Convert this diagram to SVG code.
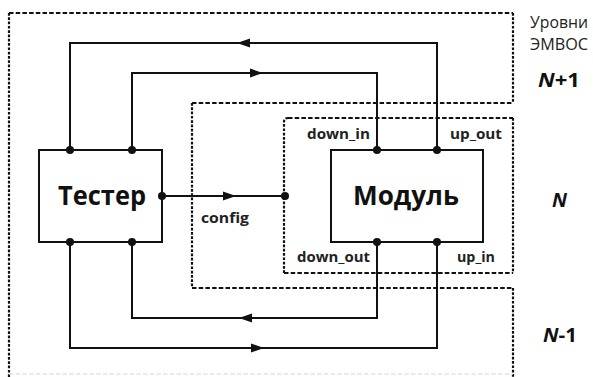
<svg xmlns="http://www.w3.org/2000/svg" width="593" height="377" viewBox="0 0 593 377">
<style>
.dh{fill:none;stroke:#111;stroke-width:2.2;stroke-dasharray:4.5 2.2}
.dv{fill:none;stroke:#111;stroke-width:2.2;stroke-dasharray:2.7 1.6}
.w{fill:none;stroke:#111;stroke-width:2}
.box{fill:#fff;stroke:#111;stroke-width:2}
.dot{fill:#111}
.ah{fill:#111}
.big{font-family:"Open Sans","Liberation Sans",Arial,sans-serif;font-weight:bold;font-size:27px;fill:#111}
.lbl{font-family:"Open Sans","Liberation Sans",Arial,sans-serif;font-weight:bold;font-size:15px;fill:#222}
.lvl{font-family:"Open Sans","Liberation Sans",Arial,sans-serif;font-size:16px;fill:#222}
.lvn{font-family:"Open Sans","Liberation Sans",Arial,sans-serif;font-weight:bold;font-size:20px;fill:#111}
</style>
<g id="levels">
  <path class="dh" d="M9,13 H513 M192,103 H513 M192,288 H513"/>
  <path class="dv" d="M9,13 V377 M513,13 V103 M192,103 V288 M513,288 V377"/>
  <path d="M9,374 H513" fill="none" stroke="#e4e4e4" stroke-width="1.5" stroke-dasharray="4.5 2.2"/>
  <path class="dh" d="M288,118 H513 M284,273 H513"/>
  <path class="dv" d="M284,273 V122 Q284,118 288,118 M513,118 V273"/>
</g>
<g id="connectors">
  <path class="w" d="M70,150 V43 H437 V150"/>
  <path class="w" d="M132,150 V73 H377 V150"/>
  <path class="w" d="M132,242 V318 H377 V242"/>
  <path class="w" d="M70,242 V348 H437 V242"/>
  <path class="w" d="M162,196 H285"/>
  <polygon class="ah" points="237,43 250,38.5 250,47.5"/>
  <polygon class="ah" points="263,73 250,68.5 250,77.5"/>
  <polygon class="ah" points="239,318 252,313.5 252,322.5"/>
  <polygon class="ah" points="264,348 251,343.5 251,352.5"/>
  <polygon class="ah" points="236,196 223,191.5 223,200.5"/>
</g>
<g id="tester">
  <rect class="box" x="39" y="150" width="123" height="92"/>
  <text class="big" x="58" y="205" textLength="88" lengthAdjust="spacingAndGlyphs">Тестер</text>
  <circle class="dot" cx="70" cy="150" r="4"/>
  <circle class="dot" cx="132" cy="150" r="4"/>
  <circle class="dot" cx="70" cy="242" r="4"/>
  <circle class="dot" cx="132" cy="242" r="4"/>
  <circle class="dot" cx="162" cy="196" r="4"/>
</g>
<g id="module">
  <rect class="box" x="331" y="150" width="152" height="92"/>
  <text class="big" x="353" y="205" textLength="106" lengthAdjust="spacingAndGlyphs">Модуль</text>
  <circle class="dot" cx="377" cy="150" r="4"/>
  <circle class="dot" cx="437" cy="150" r="4"/>
  <circle class="dot" cx="377" cy="242" r="4"/>
  <circle class="dot" cx="437" cy="242" r="4"/>
  <circle class="dot" cx="285" cy="196" r="4"/>
</g>
<g id="labels">
  <text class="lbl" x="201" y="223" textLength="48" lengthAdjust="spacingAndGlyphs">config</text>
  <text class="lbl" x="307" y="139" textLength="63" lengthAdjust="spacingAndGlyphs">down_in</text>
  <text class="lbl" x="450" y="139" textLength="52" lengthAdjust="spacingAndGlyphs">up_out</text>
  <text class="lbl" x="297" y="262" textLength="73" lengthAdjust="spacingAndGlyphs">down_out</text>
  <text class="lbl" x="457" y="262" textLength="38" lengthAdjust="spacingAndGlyphs">up_in</text>
</g>
<g id="level-labels">
  <text class="lvl" x="530" y="28" textLength="58" lengthAdjust="spacingAndGlyphs">Уровни</text>
  <text class="lvl" x="530" y="50" textLength="58" lengthAdjust="spacingAndGlyphs">ЭМВОС</text>
  <text class="lvn" x="538" y="87" textLength="42" lengthAdjust="spacingAndGlyphs"><tspan font-style="italic">N</tspan>+1</text>
  <text class="lvn" x="552" y="207" textLength="15" lengthAdjust="spacingAndGlyphs" font-style="italic">N</text>
  <text class="lvn" x="543" y="342" textLength="34" lengthAdjust="spacingAndGlyphs"><tspan font-style="italic">N</tspan>-1</text>
</g>
</svg>
